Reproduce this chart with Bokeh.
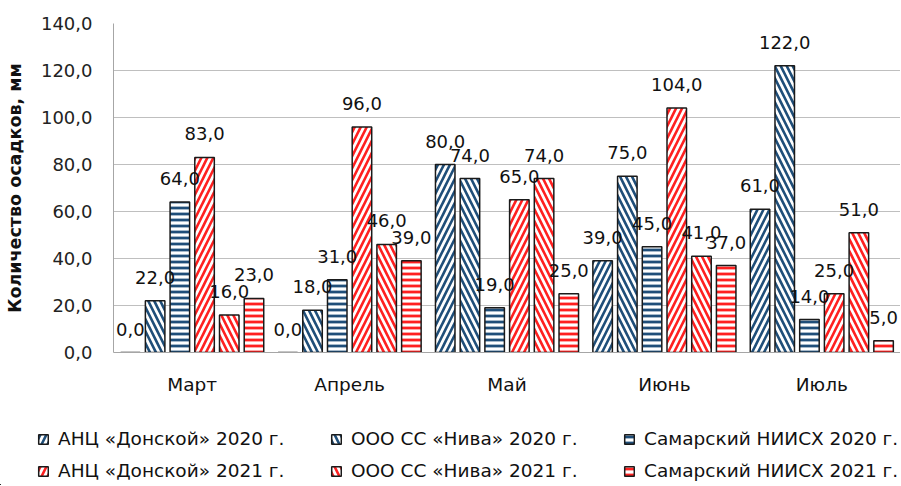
from bokeh.plotting import figure
from bokeh.models import (ColumnDataSource, Legend, LegendItem, LabelSet,
                          CustomJSTickFormatter, Range1d, FixedTicker)
from bokeh.embed import file_html
from bokeh.resources import INLINE
from bokeh.core.properties import value

months = ["Март", "Апрель", "Май", "Июнь", "Июль"]
series_names = ["АНЦ «Донской» 2020 г.", "ООО СС «Нива» 2020 г.", "Самарский НИИСХ 2020 г.",
                "АНЦ «Донской» 2021 г.", "ООО СС «Нива» 2021 г.", "Самарский НИИСХ 2021 г."]
ank_2020 = [0.0, 0.0, 80.0, 39.0, 61.0]
niva_2020 = [22.0, 18.0, 74.0, 75.0, 122.0]
sam_2020 = [64.0, 31.0, 19.0, 45.0, 14.0]
ank_2021 = [83.0, 96.0, 65.0, 104.0, 25.0]
niva_2021 = [16.0, 46.0, 74.0, 41.0, 51.0]
sam_2021 = [23.0, 39.0, 25.0, 37.0, 5.0]
y_ticks = [0, 20, 40, 60, 80, 100, 120, 140]
y_title = "Количество осадков, мм"

series_values = [ank_2020, niva_2020, sam_2020, ank_2021, niva_2021, sam_2021]
BLUE = "#1F4E79"
RED = "#FF2020"
colors = [BLUE, BLUE, BLUE, RED, RED, RED]
patterns = ["/", "\\", "-", "/", "\\", "-"]
scales = [12, 12, 6, 12, 12, 6]
weights = [2.6, 2.6, 2.8, 2.6, 2.6, 2.8]

FONT = "DejaVu Sans"

p = figure(width=900, height=405, output_backend="svg", toolbar_location=None,
           x_range=Range1d(-0.5, 4.5), y_range=Range1d(0, 140),
           min_border_left=113, min_border_top=23, min_border_right=0,
           min_border_bottom=53)
p.outline_line_color = None
p.background_fill_color = "white"

# legend panel (separate root below the chart, sharing the same data sources;
# its ranges are far from the data so only the legend swatches show)
lg = figure(width=900, height=80, output_backend="svg", toolbar_location=None,
            x_range=Range1d(1000, 1001), y_range=Range1d(1000, 1001),
            x_axis_type=None, y_axis_type=None,
            min_border_left=0, min_border_right=0, min_border_top=0, min_border_bottom=0)
lg.outline_line_color = None

step = 0.157
width = 0.124
items = []
for i, (name, vals) in enumerate(zip(series_names, series_values)):
    style = dict(fill_color="white", line_color="#1a1a1a", line_width=1.5,
                 hatch_pattern=patterns[i], hatch_color=colors[i],
                 hatch_scale=scales[i], hatch_weight=weights[i])
    xs = [g + (i - 2.5) * step for g in range(len(months))]
    src = ColumnDataSource(dict(x=xs, top=vals,
                                lbl=[f"{v:.1f}".replace(".", ",") for v in vals]))
    p.vbar(x="x", top="top", width=width, source=src, **style)
    labels = LabelSet(x="x", y="top", text="lbl", source=src, text_align="center",
                      text_baseline="bottom", y_offset=17, text_font=value(FONT),
                      text_font_size="18px", text_color="#111111")
    p.add_layout(labels)
    r = lg.vbar(x="x", top="top", width=width, source=src, **style)
    items.append(LegendItem(label=name, renderers=[r]))

# axes
p.yaxis.ticker = FixedTicker(ticks=y_ticks)
p.yaxis.formatter = CustomJSTickFormatter(code="return tick.toFixed(1).replace('.', ',');")
p.yaxis.axis_label = y_title
p.yaxis.axis_label_text_font = FONT
p.yaxis.axis_label_text_font_style = "bold"
p.yaxis.axis_label_text_font_size = "17.5px"
p.yaxis.axis_label_text_color = "#111111"
p.yaxis.axis_label_standoff = 13
p.yaxis.major_label_text_font = FONT
p.yaxis.major_label_text_font_size = "18px"
p.yaxis.major_label_text_color = "#222222"
p.yaxis.major_label_standoff = 21
p.yaxis.major_tick_out = 0
p.yaxis.major_tick_in = 0
p.yaxis.axis_line_color = "#A6A6A6"
p.yaxis.major_tick_line_color = None
p.yaxis.minor_tick_line_color = None

p.xaxis.ticker = FixedTicker(ticks=list(range(len(months))))
p.xaxis.major_label_overrides = {i: m for i, m in enumerate(months)}
p.xaxis.major_label_text_font = FONT
p.xaxis.major_label_text_font_size = "18.5px"
p.xaxis.major_label_text_color = "#111111"
p.xaxis.major_label_standoff = 21
p.xaxis.major_tick_out = 0
p.xaxis.major_tick_in = 0
p.xaxis.axis_line_color = "#A6A6A6"
p.xaxis.major_tick_line_color = None
p.xaxis.minor_tick_line_color = None

p.xgrid.grid_line_color = None
p.ygrid.ticker = FixedTicker(ticks=y_ticks)
p.ygrid.grid_line_color = "#BFBFBF"
p.ygrid.grid_line_width = 1.2

legend = Legend(items=items, orientation="horizontal", ncols=3,
                label_text_font=FONT, label_text_font_size="18.5px",
                label_text_color="#111111", glyph_width=12, glyph_height=12,
                label_width=261, spacing=11, label_standoff=9,
                border_line_color=None, background_fill_alpha=0,
                padding=0, margin=0, location=(37, 4))
lg.add_layout(legend, "center")

open("out.html", "w").write(file_html([p, lg], INLINE))
